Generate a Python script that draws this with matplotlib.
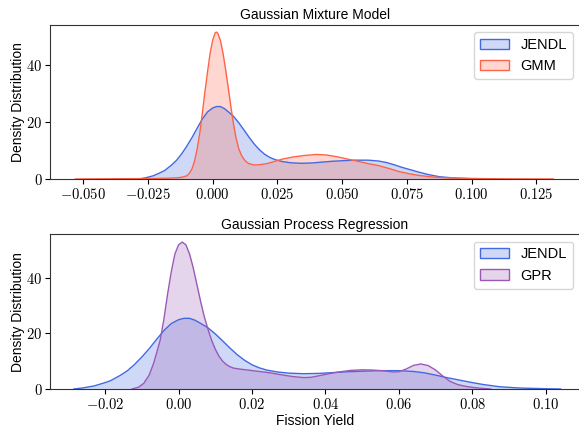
import numpy as np
import matplotlib
matplotlib.use('Agg')
import matplotlib.pyplot as plt
from matplotlib.ticker import FuncFormatter
from matplotlib.patches import Patch

plt.rcParams['mathtext.fontset'] = 'cm'
plt.rcParams['font.family'] = ['Liberation Sans', 'DejaVu Sans']

# density curves (x = fission yield, y = density)
jendl_x = [-0.0285, -0.026, -0.023, -0.020, -0.0185, -0.016, -0.014, -0.012, -0.010, -0.008,
           -0.006, -0.004, -0.002, 0.000, 0.0015, 0.003, 0.0045, 0.006, 0.008, 0.010,
           0.012, 0.014, 0.016, 0.018, 0.020, 0.022, 0.024, 0.027, 0.030, 0.034,
           0.038, 0.042, 0.046, 0.050, 0.055, 0.060, 0.064, 0.067, 0.070, 0.073,
           0.0765, 0.080, 0.083, 0.0875, 0.093, 0.100, 0.104]
jendl_y = [0.0, 0.4, 1.1, 2.3, 3.0, 4.8, 6.5, 8.8, 11.5, 14.5,
           17.8, 21.0, 23.5, 24.9, 25.4, 25.4, 24.7, 23.6, 22.0, 19.8,
           17.3, 14.7, 12.3, 10.3, 8.7, 7.6, 6.8, 6.1, 5.7, 5.5,
           5.6, 5.9, 6.2, 6.4, 6.6, 6.6, 6.3, 5.8, 5.0, 4.1,
           3.2, 2.3, 1.6, 0.8, 0.35, 0.1, 0.0]

gmm_x = [-0.053, -0.045, -0.035, -0.025, -0.018, -0.014, -0.012, -0.010, -0.009, -0.008,
         -0.007, -0.006, -0.005, -0.004, -0.003, -0.002, -0.001, 0.000, 0.001, 0.0015,
         0.002, 0.003, 0.004, 0.005, 0.006, 0.007, 0.008, 0.009, 0.010, 0.011,
         0.012, 0.013, 0.014, 0.016, 0.018, 0.021, 0.024, 0.027, 0.031, 0.035,
         0.040, 0.044, 0.048, 0.052, 0.056, 0.060, 0.064, 0.068, 0.072, 0.076,
         0.080, 0.085, 0.090, 0.096, 0.105, 0.115, 0.1315]
gmm_y = [0.0, 0.05, 0.1, 0.15, 0.25, 0.4, 0.6, 1.1, 2.0, 3.5,
         6.3, 10.5, 16.0, 23.0, 30.5, 37.5, 44.0, 48.7, 51.3, 51.5,
         51.0, 48.5, 44.0, 38.3, 32.0, 25.5, 19.5, 14.5, 10.8, 8.5,
         7.0, 6.0, 5.4, 4.9, 5.0, 5.4, 6.2, 7.0, 7.7, 8.2,
         8.6, 8.4, 7.8, 7.0, 6.2, 5.4, 4.7, 3.7, 2.6, 1.8,
         1.2, 0.7, 0.4, 0.25, 0.12, 0.05, 0.0]

gpr_x = [-0.0127, -0.011, -0.0095, -0.008, -0.0068, -0.006, -0.005, -0.004, -0.003, -0.002,
         -0.001, 0.000, 0.001, 0.002, 0.003, 0.004, 0.005, 0.006, 0.007, 0.008,
         0.009, 0.010, 0.011, 0.012, 0.013, 0.014, 0.015, 0.017, 0.019, 0.022,
         0.025, 0.028, 0.031, 0.034, 0.036, 0.038, 0.041, 0.044, 0.047, 0.050,
         0.053, 0.056, 0.0585, 0.060, 0.062, 0.064, 0.066, 0.068, 0.070, 0.072,
         0.074, 0.076, 0.078, 0.080, 0.082, 0.085]
gpr_y = [0.0, 0.6, 2.0, 5.0, 9.2, 12.8, 17.6, 25.0, 34.0, 42.0,
         48.5, 51.8, 52.8, 51.8, 48.5, 43.5, 37.5, 31.5, 26.0, 21.5,
         17.5, 14.3, 11.8, 10.0, 8.8, 8.0, 7.5, 7.1, 6.8, 6.3,
         5.8, 5.1, 4.5, 4.1, 4.2, 4.7, 5.5, 6.2, 6.7, 6.9,
         6.8, 6.5, 6.1, 6.2, 7.2, 8.5, 9.0, 8.4, 6.8, 4.6,
         2.7, 1.6, 1.0, 0.6, 0.3, 0.0]

top_xticks = [-0.050, -0.025, 0.000, 0.025, 0.050, 0.075, 0.100, 0.125]
bot_xticks = [-0.02, 0.00, 0.02, 0.04, 0.06, 0.08, 0.10]
yticks = [0, 20, 40]

c_jendl = '#4169e1'
c_gmm = '#ff6347'
c_gpr = '#9b59b6'

fig = plt.figure(figsize=(5.79, 4.28), dpi=100)
ax1 = fig.add_axes([0.0864, 0.5818, 0.9153, 0.3605])
ax2 = fig.add_axes([0.0864, 0.0911, 0.9153, 0.3615])


def kde_fill(ax, x, y, color, label):
    ax.fill_between(x, y, 0, color=color, alpha=0.25, lw=0)
    ax.plot(x, y, color=color, lw=1.0)
    return Patch(facecolor=matplotlib.colors.to_rgba(color, 0.25), edgecolor=color, lw=1.0, label=label)


h1 = [kde_fill(ax1, jendl_x, jendl_y, c_jendl, 'JENDL'),
      kde_fill(ax1, gmm_x, gmm_y, c_gmm, 'GMM')]
h2 = [kde_fill(ax2, jendl_x, jendl_y, c_jendl, 'JENDL'),
      kde_fill(ax2, gpr_x, gpr_y, c_gpr, 'GPR')]

ax1.set_xlim(-0.0628, 0.1418)
ax1.set_ylim(0, 54.1)
ax2.set_xlim(-0.0350, 0.1093)
ax2.set_ylim(0, 55.6)

ax1.set_xticks(top_xticks)
ax2.set_xticks(bot_xticks)
ax1.xaxis.set_major_formatter(FuncFormatter(lambda v, p: f'${v:.3f}$'))
ax2.xaxis.set_major_formatter(FuncFormatter(lambda v, p: f'${v:.2f}$'))
for ax in (ax1, ax2):
    ax.set_yticks(yticks)
    ax.yaxis.set_major_formatter(FuncFormatter(lambda v, p: f'${v:.0f}$'))
    ax.tick_params(labelsize=10.5, length=3.5, width=0.8, pad=2)
    ax.set_ylabel('Density Distribution', fontsize=10, labelpad=1)
    for s in ax.spines.values():
        s.set_linewidth(0.8)
        s.set_color('#333333')

ax1.set_title('Gaussian Mixture Model', fontsize=10, pad=4)
ax2.set_title('Gaussian Process Regression', fontsize=10, pad=4)
ax2.set_xlabel('Fission Yield', fontsize=10, labelpad=2)

ax1.legend(handles=h1, loc='upper right', fontsize=10.5)
ax2.legend(handles=h2, loc='upper right', fontsize=10.5)

fig.savefig('out.png', dpi=100)
